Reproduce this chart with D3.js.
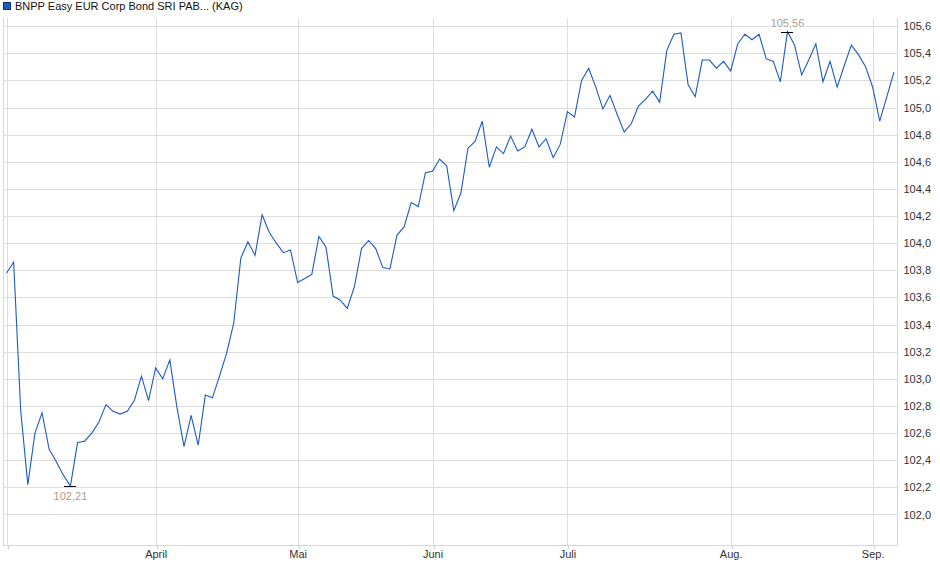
<!DOCTYPE html>
<html lang="de">
<head>
<meta charset="UTF-8">
<title>BNPP Easy EUR Corp Bond SRI PAB... (KAG)</title>
<script src="https://cdnjs.cloudflare.com/ajax/libs/d3/7.8.5/d3.min.js"></script>
<style>
    body { margin: 0; background: #fff; font-family: "Liberation Sans", Arial, sans-serif; }
    svg { display: block; }
    .grid line { stroke: #dddddd; stroke-width: 1; shape-rendering: crispEdges; }
    .frame { stroke: #d6d6d6; stroke-width: 1; shape-rendering: crispEdges; fill: none; }
    .axis text { font-size: 11px; fill: #333; font-family: "Liberation Sans", Arial, sans-serif; }
    .axis line { stroke: #cfcfcf; shape-rendering: crispEdges; }
    .axis path { display: none; }
    .extreme { font-size: 11px; fill: #aaa08e; }
</style>
</head>
<body>
<svg id="chart" width="940" height="579"></svg>
<script>
// fund name for the legend
const seriesName = 'BNPP Easy EUR Corp Bond SRI PAB... (KAG)';

// trading days: weekdays from 3 Mar to 4 Sep 2025, minus exchange holidays
const firstDay = new Date(2025, 2, 3);
const lastDay = new Date(2025, 8, 4);
const holidays = ['2025-04-18', '2025-04-21', '2025-05-01', '2025-05-29', '2025-05-30',
                  '2025-06-09', '2025-06-19', '2025-08-15'];

// NAV per day
const prices = [
    103.78, 103.86, 102.76, 102.22, 102.60, 102.75, 102.48, 102.39, 102.29, 102.21,
    102.53, 102.54, 102.60, 102.68, 102.81, 102.76, 102.74, 102.76, 102.84, 103.02,
    102.84, 103.08, 103.00, 103.14, 102.79, 102.50, 102.73, 102.51, 102.88, 102.86,
    103.02, 103.19, 103.41, 103.89, 104.01, 103.91, 104.21, 104.08, 104.00, 103.93,
    103.95, 103.71, 103.74, 103.77, 104.05, 103.97, 103.61, 103.58, 103.52, 103.68,
    103.96, 104.02, 103.96, 103.82, 103.81, 104.06, 104.12, 104.30, 104.27, 104.52,
    104.53, 104.62, 104.57, 104.24, 104.37, 104.70, 104.75, 104.90, 104.56, 104.71,
    104.66, 104.79, 104.68, 104.71, 104.84, 104.71, 104.77, 104.63, 104.73, 104.97,
    104.93, 105.20, 105.29, 105.15, 104.99, 105.09, 104.95, 104.82, 104.88, 105.01,
    105.06, 105.12, 105.04, 105.42, 105.54, 105.55, 105.17, 105.08, 105.35, 105.35,
    105.29, 105.34, 105.27, 105.47, 105.54, 105.50, 105.54, 105.36, 105.34, 105.19,
    105.56, 105.46, 105.24, 105.35, 105.47, 105.19, 105.34, 105.15, 105.31, 105.46,
    105.39, 105.30, 105.15, 104.90, 105.08, 105.26
];

// y axis ticks and month labels
const yTicks = d3.range(102.0, 105.61, 0.2);
const monthLabels = ['', 'April', 'Mai', 'Juni', 'Juli', 'Aug.', 'Sep.'];

const fmtDay = d3.timeFormat('%Y-%m-%d');
const dates = d3.timeDay.range(firstDay, d3.timeDay.offset(lastDay, 1))
    .filter(d => d.getDay() !== 0 && d.getDay() !== 6 && !holidays.includes(fmtDay(d)))
    .map(fmtDay);

// first trading day of every month gets a tick
const monthStarts = dates.filter((d, i) => i === 0 || d.slice(5, 7) !== dates[i - 1].slice(5, 7));

const svg = d3.select('#chart');
const plotLeft = 3, plotRight = 897.5, plotTop = 18, plotBottom = 545;

const x = d3.scalePoint().domain(dates).range([plotLeft, plotRight]).padding(0.5);
const y = d3.scaleLinear().domain([101.775, 105.66]).range([plotBottom, plotTop]);

const crisp = v => Math.round(v) + 0.5;

// grid
const grid = svg.append('g').attr('class', 'grid');
grid.selectAll('.h').data(yTicks).join('line')
    .attr('x1', plotLeft).attr('x2', plotRight)
    .attr('y1', d => crisp(y(d))).attr('y2', d => crisp(y(d)));
grid.selectAll('.v').data(monthStarts).join('line')
    .attr('x1', d => crisp(x(d))).attr('x2', d => crisp(x(d)))
    .attr('y1', plotTop).attr('y2', plotBottom);

// frame (left, bottom, right)
svg.append('path').attr('class', 'frame')
    .attr('d', `M${plotLeft + 0.5},${plotTop} V${plotBottom + 0.5} H${plotRight} V${plotTop}`);

// right axis
svg.append('g').attr('class', 'axis')
    .attr('transform', `translate(${plotRight},0)`)
    .call(d3.axisRight(y).tickValues(yTicks).tickSize(0).tickPadding(6)
        .tickFormat(d => d.toFixed(1).replace('.', ',')));

// bottom axis
const xAxis = svg.append('g').attr('class', 'axis')
    .attr('transform', `translate(0,${plotBottom + 0.5})`)
    .call(d3.axisBottom(x).tickValues(monthStarts).tickSize(3).tickPadding(2)
        .tickFormat((d, i) => monthLabels[i]));
xAxis.selectAll('line').attr('transform', d => `translate(${crisp(x(d)) - x(d)},0)`);
xAxis.selectAll('text').attr('fill', '#111');

// price line
const line = d3.line().x((d, i) => x(dates[i])).y(d => y(d));
svg.append('path')
    .datum(prices)
    .attr('d', line)
    .attr('fill', 'none')
    .attr('stroke', '#1c5ac6')
    .attr('stroke-width', 1.1)
    .attr('stroke-linejoin', 'miter');

// min / max markers
const fmtVal = v => v.toFixed(2).replace('.', ',');
const iMin = d3.minIndex(prices), iMax = d3.maxIndex(prices);
[[iMin, 1], [iMax, -1]].forEach(([i, dir]) => {
    const cx = x(dates[i]), cy = y(prices[i]);
    svg.append('line')
        .attr('x1', cx - 6).attr('x2', cx + 6)
        .attr('y1', crisp(cy)).attr('y2', crisp(cy))
        .attr('stroke', '#000').attr('stroke-width', 1)
        .attr('shape-rendering', 'crispEdges');
    const ty = dir > 0 ? cy + 14 : cy - 5;
    const t = svg.append('text').attr('class', 'extreme')
        .attr('x', cx).attr('y', ty)
        .attr('text-anchor', 'middle')
        .text(fmtVal(prices[i]));
    const b = t.node().getBBox();
    svg.insert('rect', function () { return t.node(); })
        .attr('x', b.x - 1).attr('y', b.y).attr('width', b.width + 2).attr('height', b.height)
        .attr('fill', '#fff');
});

// legend
svg.append('rect')
    .attr('x', 3.5).attr('y', 2.5).attr('width', 7).attr('height', 7)
    .attr('fill', '#1c5ac6').attr('stroke', '#1a2f66');
svg.append('text')
    .attr('x', 15).attr('y', 10)
    .attr('font-size', 11).attr('fill', '#111')
    .text(seriesName);
</script>
</body>
</html>
